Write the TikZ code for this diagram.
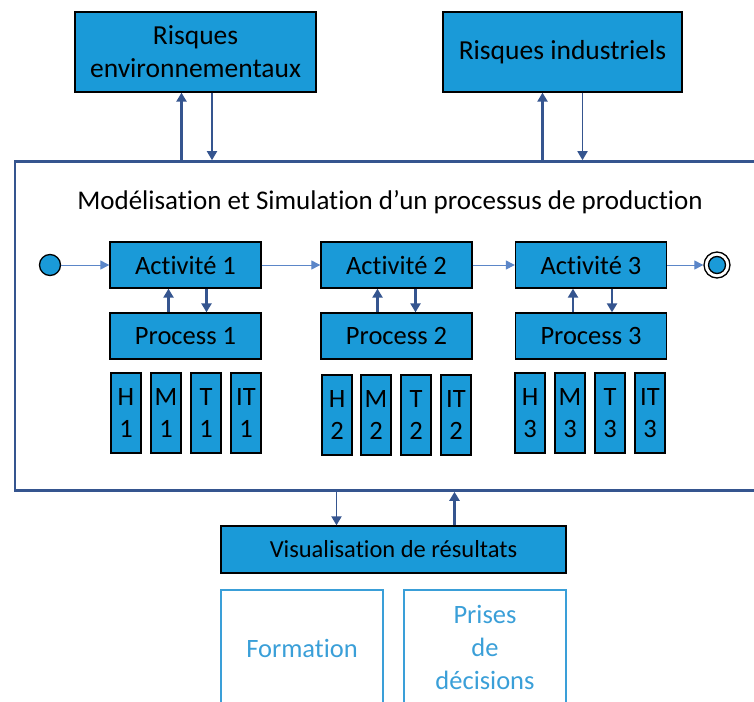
\documentclass[tikz,border=0pt]{standalone}
\usepackage{fontspec}
\setmainfont[Ligatures=NoCommon]{Carlito}
\usetikzlibrary{arrows.meta}
\definecolor{boxblue}{HTML}{1A9AD8}
\definecolor{linkblue}{HTML}{35558F}
\definecolor{flowblue}{HTML}{5B86C8}
\definecolor{softblue}{HTML}{3A9FD8}

\begin{document}
\begin{tikzpicture}[x=1pt,y=-1pt,line join=miter,
  bluebox/.style={draw=black,line width=1.3pt,fill=boxblue,inner sep=0pt,align=center,font=\fontsize{26.5}{32}\selectfont},
  tallbox/.style={bluebox,minimum width=30,minimum height=80},
  outbox/.style={draw=softblue,line width=1.3pt,inner sep=0pt,minimum width=162,minimum height=140},
  outtext/.style={text=softblue,align=center,font=\fontsize{26.5}{33}\selectfont},
  link/.style={draw=linkblue,line width=2.6pt,-{Triangle[length=9pt,width=10pt]}},
  thinlink/.style={draw=linkblue,line width=1.8pt,-{Triangle[length=9pt,width=10pt]}},
  flow/.style={draw=flowblue,line width=1pt,-{Triangle[length=9pt,width=9pt]}}]
\useasboundingbox (0,0) rectangle (754,701);
% outer frame
\node[draw=linkblue,line width=2.6pt,minimum width=770,minimum height=329,inner sep=0pt] (sim) at (400,326) {};
\node[font=\fontsize{27}{32}\selectfont] (title) at (390,202) {Modélisation et Simulation d’un processus de production};
% risks
\node[bluebox,font=\fontsize{27.5}{33}\selectfont,minimum width=241,minimum height=80] (env) at (195.5,52) {Risques\\environnementaux};
\node[bluebox,font=\fontsize{27.5}{33}\selectfont,minimum width=239,minimum height=80] (ind) at (562.5,52) {Risques industriels};
\draw[link] ([xshift=-14pt]env.south |- sim.north) -- ([xshift=-14pt]env.south);
\draw[thinlink] ([xshift=16.5pt]env.south) -- ([xshift=16.5pt]env.south |- sim.north);
\draw[link] ([xshift=-20pt]ind.south |- sim.north) -- ([xshift=-20pt]ind.south);
\draw[thinlink] ([xshift=20pt]ind.south) -- ([xshift=20pt]ind.south |- sim.north);
% activities
\node[circle,draw=black,line width=1.3pt,fill=boxblue,minimum size=21,inner sep=0pt] (start) at (50,265) {};
\node[bluebox,minimum width=151,minimum height=46] (act1) at (185.5,265) {Activité 1};
\node[bluebox,minimum width=151,minimum height=46] (act2) at (396.5,265) {Activité 2};
\node[bluebox,minimum width=151,minimum height=46] (act3) at (591,265) {Activité 3};
\node[circle,draw=black,line width=1.3pt,minimum size=26,inner sep=0pt] (stop) at (717,265) {};
\fill[boxblue,draw=black,line width=1.3pt] (stop.center) circle (8.5pt);
\draw[flow] (start) -- (act1);
\draw[flow] (act1) -- (act2);
\draw[flow] (act2) -- (act3);
\draw[flow] (act3) -- (stop);
% processes
\node[bluebox,minimum width=151,minimum height=46] (proc1) at (185.5,336) {Process 1};
\node[bluebox,minimum width=151,minimum height=46] (proc2) at (396.5,336) {Process 2};
\node[bluebox,minimum width=151,minimum height=46] (proc3) at (591,336) {Process 3};
\draw[link] ([xshift=-17pt]proc1.north) -- ([xshift=-17pt]act1.south);
\draw[link] ([xshift=21pt]act1.south) -- ([xshift=21pt]proc1.north);
\draw[link] ([xshift=-19pt]proc2.north) -- ([xshift=-19pt]act2.south);
\draw[link] ([xshift=19pt]act2.south) -- ([xshift=19pt]proc2.north);
\draw[link] ([xshift=-18pt]proc3.north) -- ([xshift=-18pt]act3.south);
\draw[link] ([xshift=21pt]act3.south) -- ([xshift=21pt]proc3.north);
% resources
\node[tallbox] (h1) at (126,413) {H\\1};
\node[tallbox] (m1) at (166,413) {M\\1};
\node[tallbox] (t1) at (206,413) {T\\1};
\node[tallbox] (it1) at (246,413) {IT\\1};
\node[tallbox] (h2) at (337,415) {H\\2};
\node[tallbox] (m2) at (376,415) {M\\2};
\node[tallbox] (t2) at (416,415) {T\\2};
\node[tallbox] (it2) at (456,415) {IT\\2};
\node[tallbox] (h3) at (530,413) {H\\3};
\node[tallbox] (m3) at (570,413) {M\\3};
\node[tallbox] (t3) at (610,413) {T\\3};
\node[tallbox] (it3) at (650,413) {IT\\3};
% results
\node[bluebox,font=\fontsize{24.5}{30}\selectfont,minimum width=345,minimum height=47] (vis) at (393.5,549.5) {Visualisation de résultats};
\draw[thinlink] ([xshift=-57pt]vis.north |- sim.south) -- ([xshift=-57pt]vis.north);
\draw[link] ([xshift=61pt]vis.north) -- ([xshift=61pt]vis.north |- sim.south);
\node[outbox] (form) at (302,660) {};
\node[outtext] (formlabel) at (302,648) {Formation};
\node[outbox] (dec) at (485,660) {};
\node[outtext] (declabel) at (485,647) {Prises\\de\\décisions};
\end{tikzpicture}
\end{document}
